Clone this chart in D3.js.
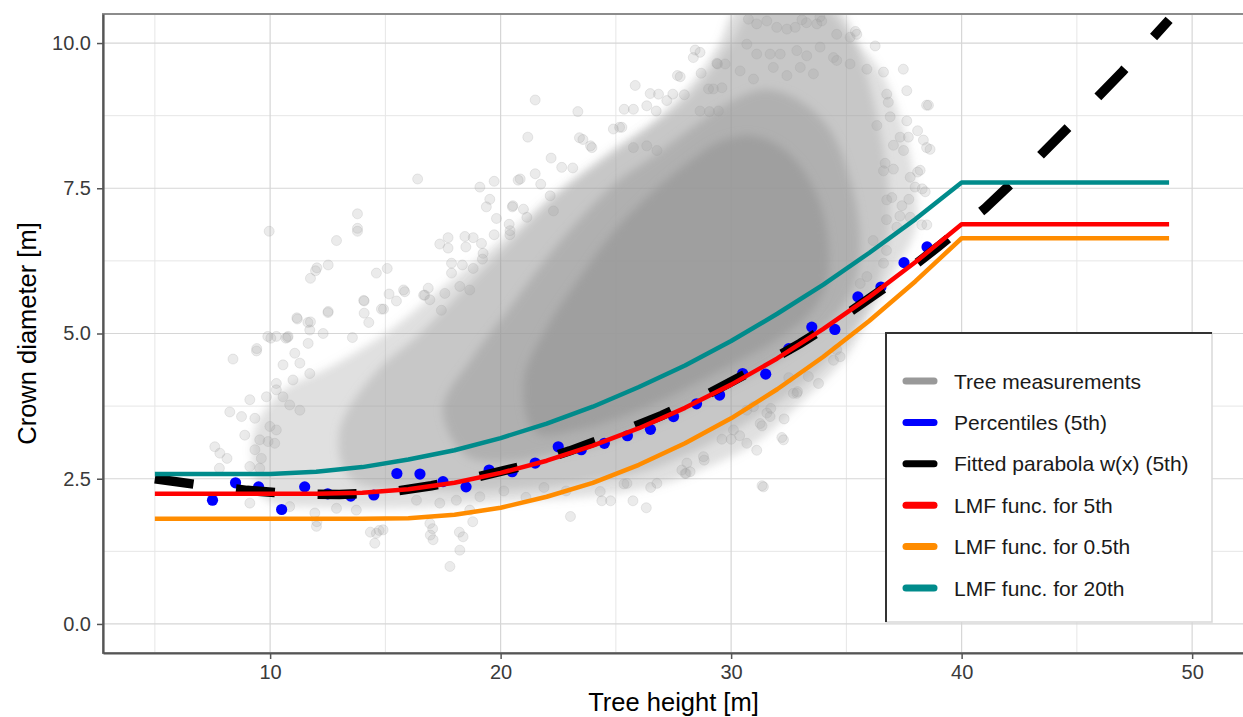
<!DOCTYPE html>
<html>
<head>
<meta charset="utf-8">
<style>
  body { margin: 0; background: #fff; }
  svg text { font-family: "Liberation Sans", Arial, Helvetica, sans-serif; }
</style>
</head>
<body>
<svg id="chart" width="1243" height="717"></svg>
<script src="https://d3js.org/d3.v7.min.js"></script>
<script>
// ---- data ----
var xMajor = [10, 20, 30, 40, 50];
var xMinor = [5, 15, 25, 35, 45];
var yMajor = [0, 2.5, 5, 7.5, 10];
var yMinor = [1.25, 3.75, 6.25, 8.75];

// LMF functions (sampled along tree height)
var lmfX      = [5, 8, 10, 12, 14, 16, 18, 20, 22, 24, 26, 28, 30, 32, 34, 36, 38, 40, 49];
var lmf5th    = [2.24, 2.24, 2.24, 2.24, 2.26, 2.32, 2.43, 2.60, 2.81, 3.07, 3.37, 3.72, 4.12, 4.57, 5.08, 5.63, 6.23, 6.88, 6.88];
var lmf05th   = [1.81, 1.81, 1.81, 1.81, 1.81, 1.82, 1.88, 2.00, 2.19, 2.43, 2.74, 3.11, 3.54, 4.04, 4.60, 5.22, 5.90, 6.64, 6.64];
var lmf20th   = [2.58, 2.58, 2.58, 2.62, 2.70, 2.83, 2.99, 3.20, 3.45, 3.74, 4.08, 4.45, 4.87, 5.34, 5.84, 6.39, 6.97, 7.60, 7.60];

// fitted parabola w(x)
var parabX = [5, 7, 9, 11, 13, 15, 17, 19, 21, 23, 25, 27, 29, 31, 33, 35, 37, 39, 41, 43, 45, 47, 49];
var parabY = [2.50, 2.39, 2.30, 2.24, 2.23, 2.26, 2.38, 2.53, 2.72, 2.98, 3.27, 3.59, 3.96, 4.38, 4.83, 5.33, 5.88, 6.50, 7.15, 7.90, 8.70, 9.52, 10.40];

// 5th percentiles per 1 m height class
var pctX = [7.5, 8.5, 9.5, 10.5, 11.5, 12.5, 13.5, 14.5, 15.5, 16.5, 17.5, 18.5, 19.5, 20.5, 21.5, 22.5,
            23.5, 24.5, 25.5, 26.5, 27.5, 28.5, 29.5, 30.5, 31.5, 32.5, 33.5, 34.5, 35.5, 36.5, 37.5, 38.5];
var pctY = [2.13, 2.43, 2.36, 1.97, 2.36, 2.24, 2.20, 2.22, 2.59, 2.58, 2.45, 2.36, 2.65, 2.62, 2.77, 3.05,
            3.00, 3.11, 3.24, 3.35, 3.57, 3.79, 3.94, 4.31, 4.30, 4.74, 5.11, 5.07, 5.63, 5.80, 6.22, 6.49];

// measurement cloud, outlined by density level (light -> core)
var cloudLight = [[9.5,2.3],[9.3,3.3],[10.5,4.0],[12.5,4.4],[15,5.0],[17.5,5.8],[20,6.6],[22,7.3],[25,8.2],[28,9.0],
  [30,10.0],[31,10.6],[34,10.6],[35,10.2],[36.5,9.5],[37.5,8.5],[38,7.5],[38,6.8],[37,6.0],[36,5.3],[35,4.6],[33,3.8],
  [31,3.1],[29,2.7],[27,2.4],[24,2.2],[20,2.1],[16,2.0],[13,2.0],[10,2.1]];
var cloudMid = [[13.5,2.5],[13,3.3],[14.5,4.3],[16.5,5.0],[18.5,5.8],[20.5,6.6],[22.5,7.4],[24.5,8.0],[26.5,8.6],
  [28.5,9.4],[29.5,10.0],[30.3,10.6],[34.6,10.6],[35.5,9.9],[36.3,8.8],[36.8,7.6],[36.8,6.6],[36.2,5.7],[35.2,5.0],
  [33.6,4.3],[32,3.8],[30,3.3],[28,2.9],[26,2.6],[23,2.4],[20,2.3],[17,2.3]];
var cloudDense = [[18.5,2.9],[17.5,3.7],[18.8,4.6],[20.5,5.5],[22,6.3],[23.5,7.0],[25,7.6],[26.8,8.1],[28.5,8.6],
  [30,9.0],[31.5,9.2],[33,9.0],[34.3,8.5],[35.2,7.6],[35.6,6.6],[35.3,5.8],[34.3,5.2],[33,4.8],[31.5,4.4],[30,4.1],
  [28.5,3.8],[27,3.5],[25.5,3.25],[24,3.05],[22,2.9],[20.5,2.8]];
var cloudCore = [[21.5,3.3],[21,4.2],[22,5.1],[23.5,6.0],[25,6.8],[26.5,7.4],[28,7.9],[29.5,8.3],[31,8.4],[32.5,8.1],
  [33.7,7.4],[34.2,6.6],[34.1,5.8],[33.3,5.3],[31.8,4.85],[30.2,4.5],[28.5,4.15],[27,3.85],[25.5,3.6],[23.5,3.35]];

// single tree measurements visible as separate points
var trees = [
  [16.4,7.66],[19.1,7.52],[19.72,7.62],[20.76,7.64],[19.53,7.31],[19.38,7.18],[20.51,7.18],[19.82,6.98],[20.37,6.88],
  [19.72,6.7],[20.4,6.7],[13.79,7.06],[13.79,6.81],[13.79,6.76],[12.88,6.6],[9.96,6.76],[12.52,6.18],[11.97,6.08],
  [11.75,5.95],[14.61,6.04],[15.08,6.12],[15.84,5.72],[15.16,5.68],[15.48,5.56],[14.08,5.56],[14.08,5.35],[14.28,5.19],
  [14.83,5.42],[12.52,5.38],[11.18,5.25],[11.75,5.2],[11.72,5.06],[12.3,5.0],[10.75,4.93],[10.03,4.92],[13.57,4.93],
  [17.36,6.54],[17.72,6.65],[18.45,6.67],[18.81,6.65],[17.72,6.47],[18.49,6.49],[19.17,6.55],[19.24,6.38],[19.21,6.28],
  [17.87,6.21],[18.34,6.18],[17.87,6.04],[18.81,6.12],[16.71,5.66],[16.93,5.58],[17.58,5.69],[17.43,5.4],[18.23,5.81],
  [18.66,5.75],[21.5,9.02],[23.35,8.82],[21.18,8.38],[23.57,8.34],[23.96,8.2],[22.19,8.02],[22.65,7.86],[23.13,7.85],
  [20.85,7.66],[21.5,7.75],[21.74,7.57],[20.53,7.2],[20.99,7.14],[21.14,7.0],[20.41,6.77],[22.15,7.37],[22.29,7.11],
  [25.84,9.27],[28.36,9.75],[28.65,9.84],[27.79,9.42],[28.7,9.48],[29.38,9.65],[29.74,9.64],[26.49,9.13],[26.85,9.12],
  [27.47,9.12],[27.97,9.11],[25.36,8.86],[25.76,8.86],[26.34,8.92],[26.75,8.83],[27.21,9.01],[24.89,8.52],[25.26,8.55],
  [25.76,8.2],[26.34,8.23],[26.78,8.15],[29.02,9.21],[29.23,9.21],[28.65,8.83],[29.06,8.82],[29.45,8.83],
  [30.75,10.41],[31.11,10.33],[31.55,10.38],[31.98,10.27],[32.42,10.24],[32.78,10.27],[33.07,10.4],[33.72,10.33],
  [33.93,10.38],[34.58,10.15],[35.16,10.1],[35.45,10.15],[36.25,9.95],[37.47,9.55],[36.61,9.5],[37.62,9.18],
  [30.68,9.98],[31.11,9.81],[31.69,9.81],[32.13,9.81],[32.85,9.87],[33.28,9.78],[33.86,9.93],[34.44,9.75],[30.39,9.52],
  [30.97,9.38],[31.83,9.58],[32.42,9.44],[33.0,9.58],[33.57,9.47],[34.58,9.7],[35.16,9.64],[35.89,9.55],[28.44,9.88],
  [29.41,9.64],[27.67,9.44],[33.27,10.35],[33.85,10.45],[35.39,10.2],
  [36.75,9.12],[36.82,8.98],[37.62,8.66],[36.32,8.58],[37.33,8.38],[37.69,8.38],[37.04,8.24],[37.48,8.15],[37.77,7.69],
  [37.98,7.52],[36.61,7.8],[37.04,7.83],[36.97,7.34],[37.41,7.2],[37.77,7.0],[37.19,6.83],[38.56,8.93],[36.9,8.73],
  [38.34,8.33],[38.63,8.17],[36.68,7.93],[38.2,7.81],[38.42,7.44],[36.75,7.3],[38.27,6.87],[38.49,6.87],[38.48,8.93],
  [38.09,8.49],[38.48,8.2],[38.09,7.78],[38.29,7.49],[37.71,7.31],[36.74,6.96],[37.32,7.02],[36.16,6.6],[36.74,6.43],
  [35.6,5.86],[35.89,5.98],[36.61,6.21],[34.44,4.54],[34.58,4.72],[34.73,4.6],[33.35,4.26],[33.79,4.14],[32.7,3.97],
  [32.85,3.97],[32.27,3.17],[31.4,2.36],[30.68,3.68],[30.97,3.74],[31.55,3.63],[31.69,3.57],[31.26,3.45],[30.1,3.34],
  [30.68,3.11],[31.11,2.99],[28.8,2.88],[28.08,2.77],[28.22,2.62],[28.0,2.59],[26.78,2.42],[25.48,2.42],[24.32,2.28],
  [23.03,1.85],[24.39,2.12],[25.74,2.12],[26.32,2.0],[27.86,2.65],[30.0,3.18],[31.34,2.38],[32.2,3.21],[20.14,2.29],
  [21.1,2.18],[21.88,2.35],[22.84,2.29],[25.35,2.41],[24.77,2.12],[26.51,2.35],[28.05,2.59],[28.83,2.82],[29.6,3.18],
  [30.37,3.24],[31.34,3.41],[32.3,3.53],[32.88,4.0],[32.5,4.24],[31.72,3.71],
  [8.39,4.56],[9.41,4.7],[7.6,3.05],[7.82,2.94],[8.13,2.85],[7.8,2.68],[8.25,3.65],[8.76,3.57],[9.34,3.54],[9.12,3.86],
  [9.84,3.91],[10.27,4.03],[10.56,3.91],[8.9,3.25],[9.55,3.17],[9.34,3.0],[9.62,2.85],[9.12,2.71],[9.55,2.68],[9.12,2.08],
  [9.99,3.4],[10.27,3.34],[9.91,3.14],[10.2,3.11],[10.27,4.95],[10.78,4.95],[11.07,4.66],[11.65,4.83],[11.29,4.49],
  [10.56,4.46],[11.72,4.31],[10.99,4.2],[10.27,4.14],[10.85,3.77],[11.29,3.68],[10.85,2.02],[11.94,1.91],[12.01,1.68],
  [12.88,1.99],[13.74,1.96],[14.61,1.56],[14.9,1.62],[14.54,1.39],[16.93,1.73],[17.07,1.45],[17.8,0.99],[18.23,1.27],
  [18.37,1.5],[19.1,2.19],[18.08,2.13],[17.36,2.08],[16.35,2.13],[18.66,1.96],[12.03,1.76],[14.35,1.58],[14.73,1.61],
  [17.05,1.64],[18.21,1.58],[18.79,1.76],[16.95,1.53],[11.16,5.27],[11.64,5.19],[12.51,5.36],[9.42,4.74],[10.68,4.92],
  [9.9,4.95],[14.06,5.57],[14.92,5.42],[15.79,5.75],[16.66,5.66],[16.86,5.78],[12.03,6.13],[23.42,8.37],[23.9,8.23],
  [25.16,8.55],[29.6,9.23]
];

var legendLabels = ["Tree measurements", "Percentiles (5th)", "Fitted parabola w(x) (5th)",
                    "LMF func. for 5th", "LMF func. for 0.5th", "LMF func. for 20th"];
var legendColors = ["#999999", "#0000ff", "#000000", "#ff0000", "#ff8c00", "#008b8b"];

// ---- layout ----
var pL = 103, pT = 14, pR = 1244, pB = 653;

var svg = d3.select("#chart");
var x = d3.scaleLinear().domain([2.75, 52.25]).range([pL, pR]);
var y = d3.scaleLinear().domain([-0.5, 10.5]).range([pB, pT]);

var defs = svg.append("defs");
defs.append("clipPath").attr("id", "panel")
  .append("rect").attr("x", pL).attr("y", pT).attr("width", pR - pL).attr("height", pB - pT);
defs.append("filter").attr("id", "soft").attr("x", "-20%").attr("y", "-20%").attr("width", "140%").attr("height", "140%")
  .append("feGaussianBlur").attr("stdDeviation", 4);

// grid
var grid = svg.append("g");
grid.selectAll(".gxm").data(xMinor).enter().append("line")
  .attr("x1", d => x(d)).attr("x2", d => x(d)).attr("y1", pT).attr("y2", pB)
  .attr("stroke", "#e6e6e6").attr("stroke-width", 1);
grid.selectAll(".gym").data(yMinor).enter().append("line")
  .attr("y1", d => y(d)).attr("y2", d => y(d)).attr("x1", pL).attr("x2", pR)
  .attr("stroke", "#e6e6e6").attr("stroke-width", 1);
grid.selectAll(".gx").data(xMajor).enter().append("line")
  .attr("x1", d => x(d)).attr("x2", d => x(d)).attr("y1", pT).attr("y2", pB)
  .attr("stroke", "#d6d6d6").attr("stroke-width", 1.2);
grid.selectAll(".gy").data(yMajor).enter().append("line")
  .attr("y1", d => y(d)).attr("y2", d => y(d)).attr("x1", pL).attr("x2", pR)
  .attr("stroke", "#d6d6d6").attr("stroke-width", 1.2);

var plot = svg.append("g").attr("clip-path", "url(#panel)");

// measurement cloud
var area = d3.line().x(d => x(d[0])).y(d => y(d[1])).curve(d3.curveCatmullRomClosed);
[[cloudLight, 0.3], [cloudMid, 0.35], [cloudDense, 0.5], [cloudCore, 0.75]].forEach(function(c) {
  plot.append("path").attr("d", area(c[0]))
    .attr("fill", "#999999").attr("fill-opacity", c[1]).attr("filter", "url(#soft)");
});
plot.selectAll(".tree").data(trees).enter().append("circle")
  .attr("cx", d => x(d[0])).attr("cy", d => y(d[1])).attr("r", 5)
  .attr("fill", "#999999").attr("fill-opacity", 0.2)
  .attr("stroke", "#999999").attr("stroke-opacity", 0.2).attr("stroke-width", 1);

// percentiles
plot.selectAll(".pct").data(pctX).enter().append("circle")
  .attr("cx", d => x(d)).attr("cy", (d, i) => y(pctY[i])).attr("r", 5.6)
  .attr("fill", "#0000ff");

var line = d3.line().x(d => x(d[0])).y(d => y(d[1]));
function pairs(xs, ys) { return xs.map((v, i) => [v, ys[i]]); }

plot.append("path").attr("d", line(pairs(parabX, parabY)))
  .attr("fill", "none").attr("stroke", "#000").attr("stroke-width", 9.5)
  .attr("stroke-dasharray", "39,42.8");

[[lmf5th, "#ff0000"], [lmf05th, "#ff8c00"], [lmf20th, "#008b8b"]].forEach(function(s) {
  plot.append("path").attr("d", line(pairs(lmfX, s[0])))
    .attr("fill", "none").attr("stroke", s[1]).attr("stroke-width", 4.5)
    .attr("stroke-linejoin", "round");
});

// panel border + axes
svg.append("rect").attr("x", pL).attr("y", pT).attr("width", pR - pL).attr("height", pB - pT)
  .attr("fill", "none").attr("stroke", "#8c8c8c").attr("stroke-width", 2);

var ax = svg.append("g").attr("transform", "translate(0," + pB + ")")
  .call(d3.axisBottom(x).tickValues(xMajor).tickSize(6).tickSizeOuter(0).tickPadding(6));
var ay = svg.append("g").attr("transform", "translate(" + pL + ",0)")
  .call(d3.axisLeft(y).tickValues(yMajor).tickFormat(d3.format(".1f")).tickSize(6).tickSizeOuter(0).tickPadding(6));
[ax, ay].forEach(function(a) {
  a.select(".domain").attr("stroke", "#555").attr("stroke-width", 2.2);
  a.selectAll(".tick line").attr("stroke", "#555").attr("stroke-width", 1.5);
  a.selectAll(".tick text").attr("fill", "#3a3a3a").style("font-size", "20px");
});

svg.append("text").attr("x", (pL + pR) / 2).attr("y", 711).attr("text-anchor", "middle")
  .style("font-size", "25.5px").attr("fill", "#000").text("Tree height [m]");
svg.append("text").attr("transform", "translate(36," + (pT + pB) / 2 + ") rotate(-90)")
  .attr("text-anchor", "middle").style("font-size", "25.5px").attr("fill", "#000").text("Crown diameter [m]");

// legend
var lg = svg.append("g");
lg.append("rect").attr("x", 886).attr("y", 333).attr("width", 326).attr("height", 289)
  .attr("fill", "#fff").attr("stroke", "#d9d9d9").attr("stroke-width", 1.5);
lg.append("path").attr("d", "M886,622V333H1212").attr("fill", "none").attr("stroke", "#333").attr("stroke-width", 2);
var rows = lg.selectAll(".row").data(legendLabels).enter().append("g")
  .attr("transform", (d, i) => "translate(0," + (381 + i * 41.4) + ")");
rows.append("line").attr("x1", 906).attr("x2", 934)
  .attr("stroke", (d, i) => legendColors[i]).attr("stroke-width", 7).attr("stroke-linecap", "round");
rows.append("text").attr("x", 954).attr("dy", "0.36em").style("font-size", "21px").attr("fill", "#1a1a1a").text(d => d);
</script>
</body>
</html>
